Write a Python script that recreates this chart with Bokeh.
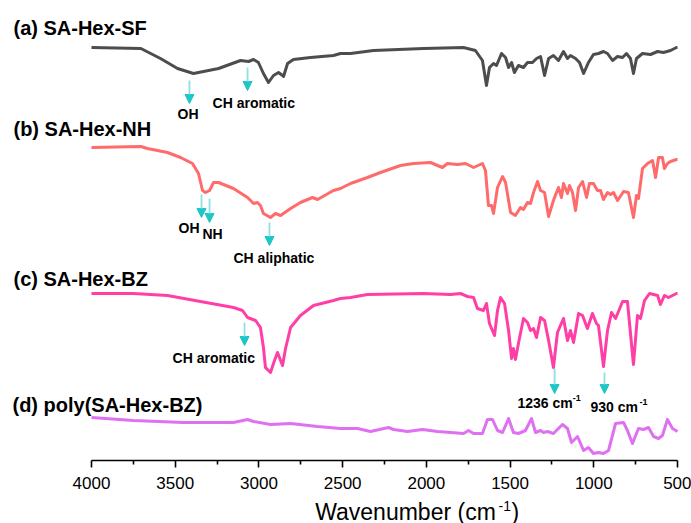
from bokeh.plotting import figure
from bokeh.models import Range1d, FixedTicker, Label, Arrow, NormalHead
from bokeh.embed import file_html
from bokeh.resources import INLINE

# ---------------- data (offset transmittance, a.u.) ----------------
wn_a = [4000, 3705, 3588, 3486, 3391, 3241, 3110, 3062, 3032, 3003, 2973, 2943, 2913, 2883,
        2859, 2853, 2829, 2794, 2692, 2555, 2513, 2453, 2316, 2017, 1778, 1707, 1665, 1641,
        1623, 1599, 1581, 1551, 1527, 1509, 1491, 1474, 1450, 1420, 1396, 1366, 1342, 1318,
        1294, 1270, 1241, 1211, 1181, 1157, 1139, 1109, 1085, 1061, 1032, 1002, 972, 942,
        918, 888, 858, 828, 805, 781, 763, 745, 709, 661, 619, 584, 542, 506, 500]
t_a = [413, 412, 402, 392, 387, 392, 400, 399, 401, 398, 387, 378, 385, 388,
       385, 384, 397, 401, 403, 405, 407, 407, 410, 412, 413, 410, 400, 375,
       393, 397, 395, 407, 403, 393, 398, 388, 395, 393, 398, 398, 402, 404,
       385, 402, 405, 400, 409, 402, 405, 402, 398, 387, 398, 406, 407, 409,
       407, 400, 404, 403, 407, 402, 387, 402, 407, 406, 409, 408, 410, 413, 413]

wn_b = [4000, 3705, 3666, 3546, 3468, 3397, 3361, 3337, 3319, 3295, 3271, 3241, 3152, 3068,
        3032, 3009, 2991, 2973, 2931, 2901, 2871, 2811, 2752, 2680, 2650, 2555, 2513, 2453,
        2352, 2274, 2154, 2077, 1975, 1933, 1904, 1874, 1814, 1766, 1718, 1665, 1647, 1629,
        1611, 1599, 1575, 1545, 1527, 1497, 1468, 1438, 1420, 1396, 1378, 1360, 1336, 1318,
        1294, 1270, 1241, 1211, 1193, 1181, 1157, 1145, 1127, 1109, 1091, 1067, 1043, 1026,
        1002, 978, 960, 942, 918, 900, 882, 858, 822, 793, 763, 745, 733, 709, 679, 649,
        631, 613, 590, 578, 560, 542, 506, 500]
t_b = [313, 314, 312, 308, 303, 297, 287, 270, 268, 270, 278, 278, 272, 263,
       257, 258, 255, 247, 243, 247, 245, 252, 258, 263, 261, 270, 272, 277,
       283, 288, 295, 297, 298, 295, 293, 297, 296, 297, 293, 297, 290, 255,
       255, 247, 273, 284, 278, 248, 245, 253, 251, 258, 257, 268, 279, 270,
       268, 244, 260, 273, 263, 277, 267, 275, 268, 250, 273, 279, 263, 277,
       277, 270, 270, 261, 268, 266, 268, 260, 269, 268, 243, 265, 262, 292, 297, 300,
       283, 303, 303, 292, 297, 299, 301, 301]

wn_c = [4000, 3750, 3546, 3349, 3152, 3098, 3068, 3020, 2991, 2973, 2961, 2931, 2907, 2889,
        2859, 2841, 2811, 2752, 2674, 2555, 2513, 2453, 2352, 2017, 1856, 1796, 1754, 1718,
        1695, 1659, 1641, 1623, 1593, 1575, 1557, 1533, 1509, 1491, 1480, 1468, 1450, 1420,
        1396, 1378, 1360, 1342, 1318, 1294, 1270, 1241, 1217, 1181, 1157, 1139, 1121, 1091,
        1067, 1038, 1008, 984, 972, 942, 918, 894, 870, 828, 799, 763, 739, 721, 697, 667,
        619, 602, 578, 554, 506, 500]
t_c = [167, 167, 165, 159, 153, 150, 143, 140, 133, 113, 93, 88, 100, 108,
       95, 112, 133, 145, 155, 160, 162, 163, 166, 167, 166, 167, 164, 163,
       152, 150, 157, 137, 125, 150, 163, 157, 130, 102, 112, 101, 117, 142,
       138, 130, 132, 123, 143, 140, 120, 93, 128, 142, 120, 130, 118, 147,
       145, 132, 147, 137, 135, 94, 130, 148, 142, 159, 159, 96, 145, 142, 160, 167,
       165, 156, 165, 163, 167, 167]

wn_d = [4000, 3750, 3450, 3152, 3068, 3032, 2931, 2811, 2650, 2513, 2453, 2411, 2334, 2226,
        2196, 2113, 2023, 1933, 1778, 1748, 1718, 1665, 1635, 1605, 1575, 1545, 1509, 1480,
        1450, 1408, 1372, 1348, 1318, 1300, 1276, 1241, 1187, 1157, 1133, 1115, 1097, 1061,
        1032, 1002, 972, 942, 912, 870, 822, 799, 769, 733, 703, 673, 643, 613, 590, 560,
        530, 500]
t_d = [43, 40, 38, 38, 41, 39, 36, 37, 34, 32, 32, 32, 29, 33,
       31, 29, 31, 29, 27, 30, 27, 27, 41, 41, 30, 28, 42, 28,
       27, 30, 42, 28, 30, 28, 29, 27, 36, 32, 18, 21, 24, 10,
       13, 7, 8, 7, 10, 37, 38, 30, 17, 32, 31, 33, 24, 22, 25, 41,
       32, 29]

series_names = ["(a) SA-Hex-SF", "(b) SA-Hex-NH", "(c) SA-Hex-BZ", "(d) poly(SA-Hex-BZ)"]
series_colors = ["#4d4d4d", "#ff6b6b", "#ff3fa6", "#e070f2"]
major_ticks = [4000, 3500, 3000, 2500, 2000, 1500, 1000, 500]
minor_ticks = [3750, 3250, 2750, 2250, 1750, 1250, 750]

FONT = "Liberation Sans"
CYAN = "#1ec6c6"

# frame covers the whole canvas; the axis is pinned at y=0 and bounded to 4000..500
W, H = 691, 523
px_per_unit = 586 / 3500.0
x_lo = 4000 + 91 / px_per_unit
x_hi = 500 - (W - 677) / px_per_unit

p = figure(width=W, height=H, output_backend="svg", toolbar_location=None,
           x_range=Range1d(x_lo, x_hi), y_range=Range1d(-(H - 460), 460),
           min_border_left=0, min_border_right=0, min_border_top=0, min_border_bottom=0)
p.outline_line_color = None
p.xgrid.visible = False
p.ygrid.visible = False
p.yaxis.visible = False
p.background_fill_color = "white"
p.border_fill_color = "white"

ax = p.xaxis[0]
ax.fixed_location = 0
ax.bounds = (500, 4000)
ax.ticker = FixedTicker(ticks=major_ticks, minor_ticks=minor_ticks)
ax.axis_line_width = 1.6
ax.axis_line_color = "black"
ax.major_tick_line_width = 1.6
ax.minor_tick_line_width = 1.6
ax.major_tick_out = 7
ax.major_tick_in = 0
ax.minor_tick_out = 4
ax.minor_tick_in = 0
ax.major_label_text_font = FONT
ax.major_label_text_font_size = "17px"
ax.major_label_text_color = "black"
ax.major_label_standoff = 9

for wn, t, c in zip([wn_a, wn_b, wn_c, wn_d], [t_a, t_b, t_c, t_d], series_colors):
    p.line(wn, t, line_color=c, line_width=3, line_join="round")

# series names
name_pos = [(4466, 433), (4466, 332), (4466, 182), (4472, 56)]
for name, (x, y) in zip(series_names, name_pos):
    p.add_layout(Label(x=x, y=y, text=name, text_font=FONT, text_font_size="20px",
                       text_font_style="bold", text_color="black",
                       text_baseline="alphabetic", text_align="left"))

# annotation texts
ann = [("OH", 3486, 347), ("CH aromatic", 3277, 358), ("OH", 3480, 233), ("NH", 3337, 227),
       ("CH aliphatic", 3152, 203), ("CH aromatic", 3516, 103),
       ("1236 cm", 1456, 58), ("930 cm", 1020, 54)]
for txt, x, y in ann:
    p.add_layout(Label(x=x, y=y, text=txt, text_font=FONT, text_font_size="14px",
                       text_font_style="bold", text_color="black",
                       text_baseline="alphabetic", text_align="left"))
for x, y in [(1126, 63), (727, 59)]:
    p.add_layout(Label(x=x, y=y, text="-1", text_font=FONT, text_font_size="9px",
                       text_font_style="bold", text_color="black",
                       text_baseline="alphabetic", text_align="left"))

# arrows
arrows = [(3415, 380, 357), (3068, 393, 370), (3343, 266, 243), (3295, 262, 238),
          (2937, 238, 215), (3086, 138, 115), (1234, 92, 67), (936, 88, 67)]
for x, y0, y1 in arrows:
    p.add_layout(Arrow(x_start=x, y_start=y0, x_end=x, y_end=y1,
                       line_color="#8fe0e0", line_width=1.8,
                       end=NormalHead(size=9, fill_color=CYAN, line_color=CYAN, line_width=1)))

# axis title
p.add_layout(Label(x=2664, y=-51, text="Wavenumber (cm", text_font=FONT, text_font_size="23px",
                   text_color="black", text_baseline="alphabetic", text_align="left"))
p.add_layout(Label(x=1569, y=-45, text="-1", text_font=FONT, text_font_size="14px",
                   text_color="black", text_baseline="alphabetic", text_align="left"))
p.add_layout(Label(x=1491, y=-51, text=")", text_font=FONT, text_font_size="23px",
                   text_color="black", text_baseline="alphabetic", text_align="left"))

open("out.html", "w").write(file_html(p, INLINE))
